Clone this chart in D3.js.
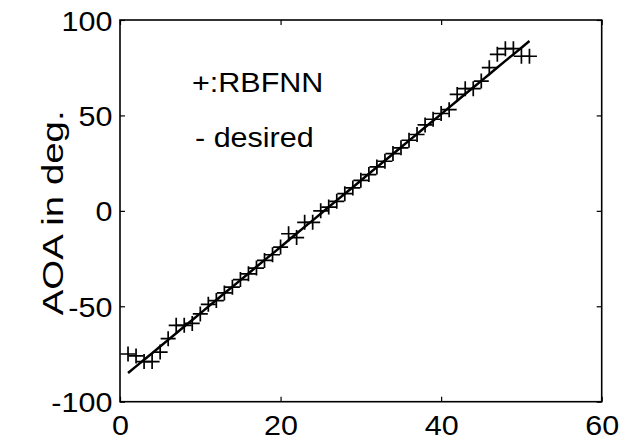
<html lang="en">
<head>
    <meta charset="UTF-8"/>
    <title>AOA</title>
    <style>
        body { margin: 0; background: #fff; }
        svg { display: block; }
        text { font-family: "Liberation Sans", Arial, sans-serif; fill: #000; }
        .axis path, .axis line { stroke: #000; }
    </style>
</head>
<body>
<svg width="629" height="446"></svg>
<script src="https://d3js.org/d3.v7.min.js"></script>
<script>
    const samples = d3.range(1, 52);
    const desired = [-85, -81.5, -78, -74.6, -71.1, -67.6, -64.1, -60.6, -57.2, -53.7,
        -50.2, -46.7, -43.2, -39.8, -36.3, -32.8, -29.3, -25.8, -22.4, -18.9,
        -15.4, -11.9, -8.4, -5, -1.5, 2, 5.5, 9, 12.4, 15.9,
        19.4, 22.9, 26.4, 29.8, 33.3, 36.8, 40.3, 43.8, 47.2, 50.7,
        54.2, 57.7, 61.2, 64.6, 68.1, 71.6, 75.1, 78.6, 82, 85.5, 89];
    const rbfnn = [-75, -76, -79, -79, -74, -67, -60, -60, -59, -54,
        -49, -47, -43, -40, -36, -33, -30, -26, -23, -19,
        -12, -14, -6, -6, 0, 2, 5, 9, 12, 16,
        19, 23, 26, 30, 33, 37, 40, 45, 48, 51,
        53, 61, 64, 64, 68, 75, 82, 85, 85, 81, 81];
    const xTicks = [0, 20, 40, 60];
    const yTicks = [-100, -50, 0, 50, 100];

    const svg = d3.select("svg");
    const pLeft = 120, pRight = 601.7, pTop = 20, pBottom = 401.7;
    const sx = 1.09; // scanned glyphs are a bit wide

    const x = d3.scaleLinear().domain([0, 60]).range([pLeft, pRight]);
    const y = d3.scaleLinear().domain([-100, 100]).range([pBottom, pTop]);

    // box
    svg.append("rect")
        .attr("x", pLeft).attr("y", pTop)
        .attr("width", pRight - pLeft).attr("height", pBottom - pTop)
        .attr("fill", "none").attr("stroke", "#000").attr("stroke-width", 1.6);

    const tick = 5;
    const plain = d => String(d); // hyphen minus, as in the figure
    const bottomAxis = svg.append("g").attr("class", "axis")
        .attr("transform", `translate(0,${pBottom})`)
        .call(d3.axisBottom(x).tickValues(xTicks).tickSize(-tick).tickPadding(13).tickFormat(plain));
    const leftAxis = svg.append("g").attr("class", "axis")
        .attr("transform", `translate(${pLeft},0)`)
        .call(d3.axisLeft(y).tickValues(yTicks).tickSize(-tick).tickPadding(7).tickFormat(plain));
    svg.append("g").attr("class", "axis")
        .attr("transform", `translate(0,${pTop})`)
        .call(d3.axisTop(x).tickValues(xTicks).tickSize(-tick).tickFormat(""));
    svg.append("g").attr("class", "axis")
        .attr("transform", `translate(${pRight},0)`)
        .call(d3.axisRight(y).tickValues(yTicks).tickSize(-tick).tickFormat(""));

    svg.selectAll(".axis .domain").remove();
    svg.selectAll(".axis line").attr("stroke-width", 1.2);

    bottomAxis.selectAll("text")
        .attr("font-size", 28)
        .attr("font-family", "Liberation Sans, Arial, sans-serif")
        .attr("transform", `scale(${sx},1)`);
    leftAxis.selectAll("text")
        .attr("font-size", 28)
        .attr("font-family", "Liberation Sans, Arial, sans-serif")
        .attr("dy", "0.36em")
        .attr("transform", `scale(${sx},1)`);

    // y label
    svg.append("text")
        .attr("transform", `translate(63,${(pTop + pBottom) / 2 + 2}) rotate(-90)`)
        .attr("text-anchor", "middle")
        .attr("font-size", 30)
        .attr("textLength", 205)
        .attr("lengthAdjust", "spacingAndGlyphs")
        .text("AOA in deg.");

    // desired curve
    const line = d3.line().x((d, i) => x(samples[i])).y(d => y(d));
    svg.append("path")
        .datum(desired)
        .attr("d", line)
        .attr("fill", "none")
        .attr("stroke", "#000")
        .attr("stroke-width", 2.5);

    // RBFNN markers
    const m = 7.5;
    svg.append("g")
        .selectAll("path")
        .data(rbfnn)
        .join("path")
        .attr("d", (d, i) => {
            const cx = x(samples[i]), cy = y(d);
            return `M${cx - m},${cy}H${cx + m}M${cx},${cy - m}V${cy + m}`;
        })
        .attr("stroke", "#000")
        .attr("stroke-width", 1.7)
        .attr("fill", "none");

    // legend text
    svg.append("text")
        .attr("transform", `translate(192,91.7) scale(${sx},1)`)
        .attr("font-size", 28)
        .text("+:RBFNN");
    svg.append("text")
        .attr("transform", `translate(195,146.7) scale(${sx},1)`)
        .attr("font-size", 28)
        .text("- desired");
</script>
</body>
</html>
